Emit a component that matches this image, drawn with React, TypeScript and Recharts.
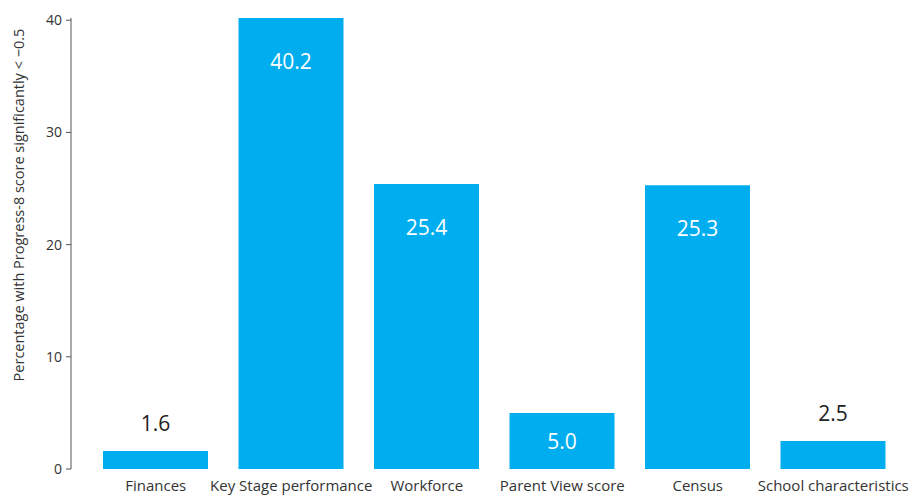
import { BarChart, Bar, XAxis, YAxis, LabelList } from "recharts";

const categories = [
  "Finances",
  "Key Stage performance",
  "Workforce",
  "Parent View score",
  "Census",
  "School characteristics",
];
const percentages = [1.6, 40.2, 25.4, 5.0, 25.3, 2.5];
const yTicks = [0, 10, 20, 30, 40];

const data = categories.map((name, i) => ({ name, value: percentages[i] }));

const FONT = "'Open Sans', sans-serif";
const BLUE = "#00aeef";

function ValueLabel(props: any) {
  const { x, y, width, height, value } = props;
  const cx = x + width / 2;
  const text = Number(value).toFixed(1);
  let ty: number;
  let fill = "#ffffff";
  if (value >= 10) {
    ty = y + 43;
  } else if (value >= 4) {
    ty = y + height / 2;
  } else {
    ty = y - 28;
    fill = "#222222";
  }
  return (
    <text
      x={cx}
      y={ty}
      fill={fill}
      fontSize={21}
      fontFamily={FONT}
      textAnchor="middle"
      dominantBaseline="central"
    >
      {text}
    </text>
  );
}

function AxisTitle() {
  return (
    <text
      x={18}
      y={205}
      transform="rotate(-90 18 205)"
      style={{ fontSize: 14.5, fontFamily: FONT }}
      fill="#333"
      textAnchor="middle"
      dominantBaseline="central"
    >
      Percentage with Progress-8 score significantly &lt; −0.5
    </text>
  );
}

export default function App() {
  return (
    <div style={{ position: "absolute", left: 0, top: 0, background: "#fff" }}>
      <BarChart
        width={914}
        height={497}
        data={data}
        margin={{ top: 18, right: 13, bottom: 0, left: 0 }}
      >
        <XAxis
          dataKey="name"
          axisLine={false}
          tickLine={false}
          padding={{ left: 17, right: 0 }}
          height={28}
          tickMargin={5}
          interval={0}
          tick={{ fill: "#333", fontSize: 15, fontFamily: FONT }}
        />
        <YAxis
          width={71}
          domain={[0, 40]}
          ticks={yTicks}
          tickSize={5}
          tickMargin={4}
          axisLine={{ stroke: "#555" }}
          tickLine={{ stroke: "#555" }}
          tick={{ fill: "#333", fontSize: 14, fontFamily: FONT }}
          label={<AxisTitle />}
        />
        <Bar dataKey="value" fill={BLUE} barSize={105} isAnimationActive={false}>
          <LabelList dataKey="value" content={<ValueLabel />} />
        </Bar>
      </BarChart>
    </div>
  );
}
